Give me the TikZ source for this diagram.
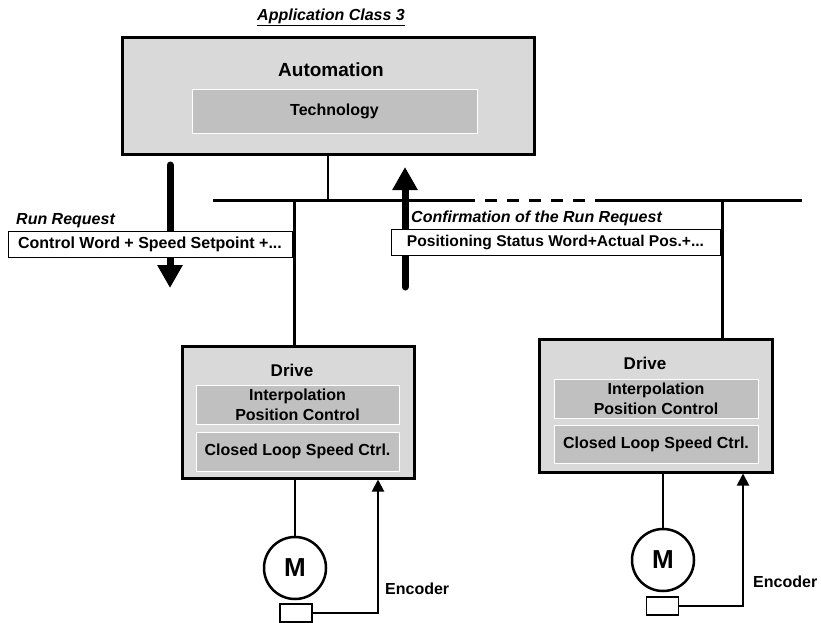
\documentclass[tikz,border=0pt]{standalone}
\usepackage{fontspec}
\setmainfont{Liberation Sans}
\usetikzlibrary{positioning,arrows.meta}
\definecolor{boxgray}{RGB}{217,217,217}
\definecolor{subgray}{RGB}{192,192,192}
\newcommand{\setfs}[1]{\fontsize{#1}{#1}\selectfont}

\begin{document}
\begin{tikzpicture}[
    x=1pt, y=-1pt,
    font=\bfseries\setfs{16},
    unitbox/.style={draw=black, line width=3pt, fill=boxgray, inner sep=0pt},
    subbox/.style={draw=white, line width=0.8pt, fill=subgray, inner sep=0pt,
        align=center, font=\bfseries\fontsize{16}{20}\selectfont},
    msg/.style={draw=black, line width=0.8pt, fill=white, inner sep=0pt},
    lab/.style={inner sep=0pt},
    bus/.style={line width=3pt},
    flow/.style={line width=7pt, -{Triangle[width=24pt,length=23pt]}},
    fb/.style={line width=2pt, -{Triangle[width=12pt,length=12pt]}},
    motor/.style={circle, draw=black, line width=2.5pt, minimum size=62pt,
        inner sep=0pt, font=\bfseries\setfs{26}},
    enc/.style={draw=black, line width=1.2pt, fill=white, minimum width=32pt,
        minimum height=18pt, inner sep=0pt}
]
\useasboundingbox (0,0) rectangle (821,623);

% ---- title ----
\node[lab, font=\bfseries\itshape\setfs{16}] (title) at (331,17) {\underline{Application Class 3}};

% ---- automation ----
\node[unitbox, minimum width=412pt, minimum height=116pt] (auto) at (328,96) {};
\node[lab, font=\bfseries\setfs{19}] (autolbl) at (331,70) {Automation};
\node[subbox, minimum width=285pt, minimum height=44pt] (tech) at (334.5,111) {Technology};

% ---- bus ----
\coordinate (busL) at (213,200);
\coordinate (busR) at (802,200);
\coordinate (dashA) at (463,200);
\coordinate (dashB) at (603,200);
\coordinate (tap1) at (294,200);
\coordinate (tap2) at (722,200);
\draw[bus] (busL) -- (dashA);
\draw[bus, dash pattern=on 12pt off 10pt] (dashA) -- (dashB);
\draw[bus] (dashB) -- (busR);
\draw[line width=2.5pt] (auto.south -| 328,0) -- (busL -| 328,0);

% ---- run request / confirmation ----
\coordinate (runTop) at (170,165);
\coordinate (runTip) at (170,288);
\coordinate (cnfBot) at (405,287);
\coordinate (cnfTip) at (405,167);
\draw[flow, line cap=round] (runTop) -- (runTip);
\draw[flow, line cap=round] (cnfBot) -- (cnfTip);

\node[lab, anchor=west, font=\bfseries\itshape\setfs{16}] (runlbl) at (16,221) {Run Request};
\node[msg, minimum width=284pt, minimum height=26pt] (runmsg) at (150,244) {Control Word + Speed Setpoint +...};
\node[lab, anchor=west, font=\bfseries\itshape\setfs{16}] (cnflbl) at (411,218) {Confirmation of the Run Request};
\node[msg, minimum width=329pt, minimum height=26pt, font=\bfseries\setfs{15.6}] (cnfmsg) at (555.5,242) {Positioning Status Word+Actual Pos.+...};

% ---- drive 1 ----
\node[unitbox, minimum width=232pt, minimum height=132pt] (drive1) at (298,412) {};
\node[lab, font=\bfseries\setfs{17}] (drv1lbl) at (292,370) {Drive};
\node[subbox, minimum width=203pt, minimum height=39pt] (ipo1) at (297.5,404.5) {Interpolation\\Position Control};
\node[subbox, minimum width=203pt, minimum height=39pt] (spd1) at (297.5,451.5) {Closed Loop Speed Ctrl.};
\draw[bus] (tap1) -- (tap1 |- drive1.north);

\node[motor] (m1) at (295,568) {M};
\node[enc] (enc1) at (296,613) {};
\coordinate (fb1) at (378,0);
\draw[line width=2.5pt] (m1.north) -- (m1 |- drive1.south);
\draw[fb] (enc1.east) -| (fb1 |- drive1.south);
\node[lab, anchor=west] (enc1lbl) at (385,589) {Encoder};

% ---- drive 2 ----
\node[unitbox, minimum width=233pt, minimum height=133pt] (drive2) at (655.5,405.5) {};
\node[lab, font=\bfseries\setfs{17}] (drv2lbl) at (645,363) {Drive};
\node[subbox, minimum width=204pt, minimum height=39pt] (ipo2) at (656,398.5) {Interpolation\\Position Control};
\node[subbox, minimum width=204pt, minimum height=38pt] (spd2) at (656,444) {Closed Loop Speed Ctrl.};
\draw[bus] (tap2) -- (tap2 |- drive2.north);

\node[motor] (m2) at (663,560) {M};
\node[enc] (enc2) at (662.5,606) {};
\coordinate (fb2) at (743,0);
\draw[line width=2.5pt] (m2.north) -- (m2 |- drive2.south);
\draw[fb] (enc2.east) -| (fb2 |- drive2.south);
\node[lab, anchor=west] (enc2lbl) at (753,582) {Encoder};

\end{tikzpicture}
\end{document}
